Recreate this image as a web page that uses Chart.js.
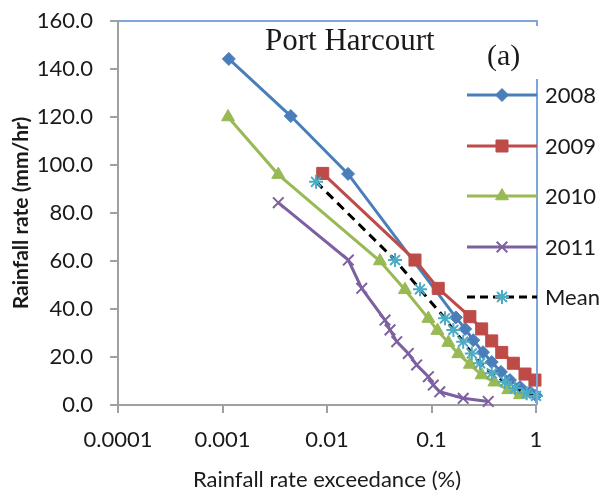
<!DOCTYPE html>
<html>
<head>
<meta charset="utf-8">
<script src="https://cdn.jsdelivr.net/npm/chart.js@4/dist/chart.umd.min.js"></script>
<style>
  body { margin: 0; background: #fff; }
  canvas { display: block; }
</style>
</head>
<body>
<canvas id="rainChart" width="608" height="493"></canvas>
<script>
// Rainfall rate (mm/hr) vs exceedance (%) - Port Harcourt
const seriesNames = ['2008', '2009', '2010', '2011', 'Mean'];

const exc2008 = [0.00115, 0.0045, 0.0159, 0.171, 0.21, 0.251, 0.311, 0.377, 0.462, 0.563, 0.703, 0.877, 1.0];
const rate2008 = [144.2, 120.4, 96.3, 36.5, 31.7, 27.0, 22.0, 17.9, 13.8, 10.4, 7.5, 5.4, 4.0];

const exc2009 = [0.0091, 0.0695, 0.116, 0.233, 0.302, 0.377, 0.47, 0.607, 0.785, 0.977];
const rate2009 = [96.5, 60.4, 48.6, 36.8, 31.7, 26.7, 21.9, 17.4, 12.9, 10.4];

const exc2010 = [0.00113, 0.00342, 0.0321, 0.0557, 0.0934, 0.114, 0.145, 0.181, 0.233, 0.302, 0.4, 0.543, 0.703];
const rate2010 = [120.0, 96.0, 60.0, 48.0, 36.0, 31.0, 26.0, 21.3, 16.9, 12.5, 9.5, 6.3, 4.2];

const exc2011 = [0.00342, 0.016, 0.0215, 0.0359, 0.0401, 0.0465, 0.060, 0.0721, 0.0934, 0.104, 0.12, 0.201, 0.349];
const rate2011 = [84.3, 60.4, 48.6, 35.4, 31.3, 26.4, 21.5, 16.7, 11.8, 8.3, 5.5, 2.8, 1.5];

const excMean = [0.00785, 0.0448, 0.0776, 0.1346, 0.162, 0.201, 0.243, 0.291, 0.377, 0.505, 0.63, 0.815, 1.0];
const rateMean = [93.0, 60.4, 48.2, 36.1, 31.3, 26.4, 21.5, 17.4, 13.2, 9.7, 7.0, 4.9, 3.8];

const xTicks = [0.0001, 0.001, 0.01, 0.1, 1];
const xTickLabels = ['0.0001', '0.001', '0.01', '0.1', '1'];
const yTicks = [0, 20, 40, 60, 80, 100, 120, 140, 160];

const toPoints = (xs, ys) => xs.map((x, i) => ({ x: x, y: ys[i] }));

const styles = [
  { color: '#4A7EBB', marker: '#4A7EBB', point: 'rectRot', radius: 6.5, dash: [] },
  { color: '#BE4B48', marker: '#BE4B48', point: 'rect', radius: 8.5, dash: [] },
  { color: '#98B954', marker: '#98B954', point: 'triangle', radius: 7.5, dash: [] },
  { color: '#7D60A0', marker: '#7D60A0', point: 'crossRot', radius: 7.5, dash: [] },
  { color: '#000000', marker: '#4BACC6', point: 'star', radius: 7, dash: [9, 6] }
];

const allData = [
  toPoints(exc2008, rate2008),
  toPoints(exc2009, rate2009),
  toPoints(exc2010, rate2010),
  toPoints(exc2011, rate2011),
  toPoints(excMean, rateMean)
];

const datasets = allData.map((pts, i) => ({
  label: seriesNames[i],
  data: pts,
  borderColor: styles[i].color,
  borderWidth: 3,
  borderDash: styles[i].dash,
  pointStyle: styles[i].point,
  pointRadius: styles[i].radius,
  pointBackgroundColor: styles[i].marker,
  pointBorderColor: styles[i].marker,
  pointBorderWidth: (styles[i].point === 'crossRot' || styles[i].point === 'star') ? 2 : 1,
  fill: false,
  tension: 0,
  clip: false,
  order: 4 - i
}));

// Border (top + right) in light blue, like the Excel plot area
const frame = {
  id: 'frame',
  afterDatasetsDraw(chart) {
    const { ctx, chartArea: a } = chart;
    ctx.save();
    ctx.strokeStyle = '#7EA6D8';
    ctx.lineWidth = 2;
    ctx.beginPath();
    ctx.moveTo(a.left, a.top);
    ctx.lineTo(a.right + 1, a.top);
    ctx.lineTo(a.right + 1, a.top + 5);
    ctx.moveTo(a.right + 1, 79);
    ctx.lineTo(a.right + 1, a.bottom);
    ctx.stroke();
    ctx.restore();
  }
};

// Titles inside the plot and the legend on the right
const overlay = {
  id: 'overlay',
  afterDraw(chart) {
    const ctx = chart.ctx;
    ctx.save();
    ctx.fillStyle = '#1a1a1a';
    ctx.textBaseline = 'alphabetic';
    ctx.textAlign = 'left';
    ctx.font = '31px "Liberation Serif", "Times New Roman", serif';
    ctx.fillText('Port Harcourt', 265, 50);
    ctx.font = '30px "Liberation Serif", "Times New Roman", serif';
    ctx.fillText('(a)', 487, 65);

    const rowY = [95, 146, 196, 247, 297];
    ctx.font = '22px Lato, "Open Sans", sans-serif';
    rowY.forEach((y, i) => {
      const s = styles[i];
      ctx.strokeStyle = s.color;
      ctx.lineWidth = 3;
      ctx.setLineDash(s.dash.length ? [8, 5] : []);
      ctx.beginPath();
      ctx.moveTo(467, y);
      ctx.lineTo(537, y);
      ctx.stroke();
      ctx.setLineDash([]);
      ctx.fillStyle = s.marker;
      ctx.strokeStyle = s.marker;
      ctx.lineWidth = (s.point === 'crossRot' || s.point === 'star') ? 2 : 1;
      Chart.helpers.drawPoint(ctx, { pointStyle: s.point, radius: s.radius, rotation: 0, borderWidth: ctx.lineWidth }, 502, y);
      ctx.fillStyle = '#1a1a1a';
      ctx.textBaseline = 'middle';
      ctx.fillText(seriesNames[i], 545, y + 1);
    });
    ctx.restore();
  }
};

new Chart(document.getElementById('rainChart'), {
  type: 'line',
  data: { datasets: datasets },
  plugins: [frame, overlay],
  options: {
    responsive: false,
    animation: false,
    layout: { padding: { left: 0, right: 72, top: 21, bottom: 0 } },
    plugins: {
      legend: { display: false },
      tooltip: { enabled: false }
    },
    scales: {
      x: {
        type: 'logarithmic',
        min: 0.0001,
        max: 1,
        afterBuildTicks: s => { s.ticks = xTicks.map(v => ({ value: v })); },
        afterFit: s => { s.height = 88; s.paddingLeft = 0; s.paddingRight = 0; },
        ticks: {
          autoSkip: false,
          maxRotation: 0,
          padding: 14,
          color: '#1a1a1a',
          font: { family: 'Lato', size: 22 },
          callback: (v) => xTickLabels[xTicks.indexOf(v)] ?? ''
        },
        grid: { display: true, drawOnChartArea: false, drawTicks: true, tickLength: 8, color: '#A0A0A0', lineWidth: 2 },
        border: { display: true, color: '#A0A0A0', width: 2 },
        title: {
          display: true,
          text: 'Rainfall rate exceedance (%)',
          color: '#1a1a1a',
          font: { family: 'Lato', size: 22 },
          padding: { top: 0, bottom: 0 }
        }
      },
      y: {
        type: 'linear',
        min: 0,
        max: 160,
        afterBuildTicks: s => { s.ticks = yTicks.map(v => ({ value: v })); },
        afterFit: s => { s.width = 118; s.paddingTop = 0; s.paddingBottom = 0; },
        ticks: {
          padding: 17,
          color: '#1a1a1a',
          font: { family: 'Lato', size: 22 },
          callback: v => Number(v).toFixed(1)
        },
        grid: { display: true, drawOnChartArea: false, drawTicks: true, tickLength: 8, color: '#A0A0A0', lineWidth: 2 },
        border: { display: true, color: '#A0A0A0', width: 2 },
        title: {
          display: true,
          text: 'Rainfall rate (mm/hr)',
          color: '#1a1a1a',
          font: { family: 'Lato', size: 21, weight: 'bold' },
          padding: { top: 9, bottom: 0 }
        }
      }
    }
  }
});
</script>
</body>
</html>
